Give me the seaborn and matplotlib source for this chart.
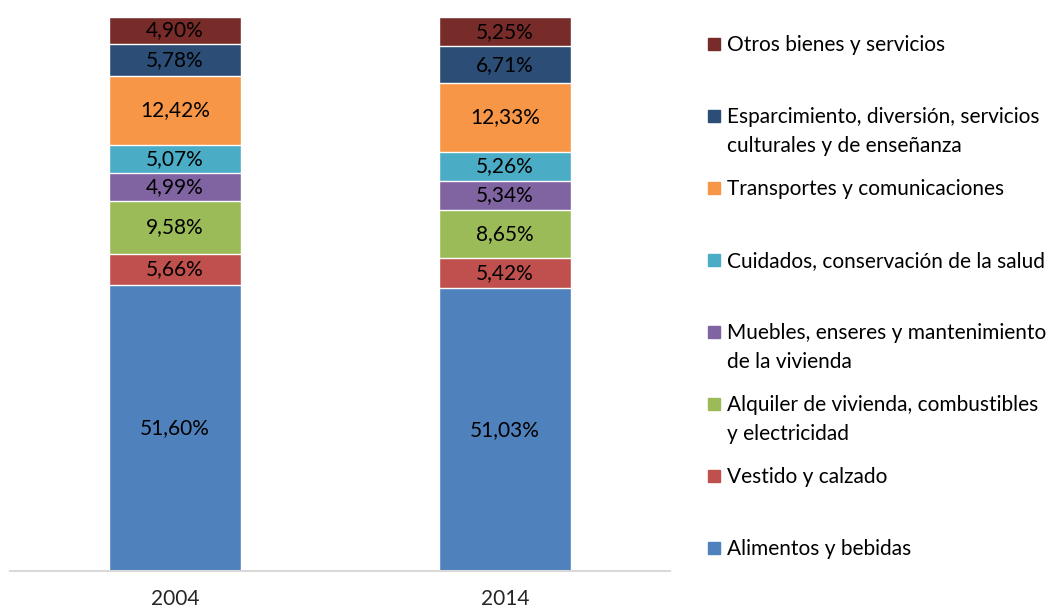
import matplotlib

matplotlib.use("Agg")
import matplotlib.pyplot as plt
import numpy as np
import pandas as pd
import seaborn as sns
from matplotlib.patches import Rectangle

YEARS = ["2004", "2014"]
CATEGORIES = [
    "Alimentos y bebidas",
    "Vestido y calzado",
    "Alquiler de vivienda, combustibles\ny electricidad",
    "Muebles, enseres y mantenimiento\nde la vivienda",
    "Cuidados, conservación de la salud",
    "Transportes y comunicaciones",
    "Esparcimiento, diversión, servicios\nculturales y de enseñanza",
    "Otros bienes y servicios",
]
VALUES_2004 = [51.60, 5.66, 9.58, 4.99, 5.07, 12.42, 5.78, 4.90]
VALUES_2014 = [51.03, 5.42, 8.65, 5.34, 5.26, 12.33, 6.71, 5.25]
COLORS = ["#4F81BD", "#C0504D", "#9BBB59", "#8064A2",
          "#4BACC6", "#F79646", "#2C4D75", "#772C2A"]

FONT = ["Lato", "DejaVu Sans"]


def build() -> pd.DataFrame:
    rows = []
    for year, vals in zip(YEARS, [VALUES_2004, VALUES_2014]):
        cum = np.cumsum(vals)
        for cat, v, c in zip(CATEGORIES, vals, cum):
            rows.append({"year": year, "cat": cat, "value": v, "top": c})
    return pd.DataFrame(rows)


def plot(df: pd.DataFrame) -> None:
    sns.set_style("white")
    plt.rcParams["font.family"] = FONT

    fig = plt.figure(figsize=(10.64, 6.10), dpi=100)
    ax = fig.add_axes([10 / 1064, 1 - 571 / 610, 660 / 1064, 554 / 610])

    # draw cumulative bars from the top down so lower ones overlay
    for cat, color in reversed(list(zip(CATEGORIES, COLORS))):
        sub = df[df["cat"] == cat]
        sns.barplot(data=sub, x="year", y="top", order=YEARS, color=color,
                    width=0.4, edgecolor="white", linewidth=1.0,
                    saturation=1, ax=ax)

    # segment labels
    for year_i, year in enumerate(YEARS):
        sub = df[df["year"] == year]
        for _, r in sub.iterrows():
            ax.text(year_i, r["top"] - r["value"] / 2,
                    f"{r['value']:.2f}%".replace(".", ","),
                    ha="center", va="center", fontsize=15, color="#000000")

    ax.set_xlim(-0.5, 1.5)
    ax.set_ylim(0, 100)
    ax.set_xlabel("")
    ax.set_ylabel("")
    ax.set_yticks([])
    ax.tick_params(axis="x", length=0, pad=13, labelsize=15)
    for s in ["top", "right", "left"]:
        ax.spines[s].set_visible(False)
    ax.spines["bottom"].set_color("#D9D9D9")
    ax.spines["bottom"].set_linewidth(1.5)

    # legend, evenly spaced entries, top entry first
    y0 = 44
    step = 72
    for i, (cat, color) in enumerate(reversed(list(zip(CATEGORIES, COLORS)))):
        yp = y0 + i * step
        fig.patches.append(Rectangle((708 / 1064, 1 - (yp + 6) / 610),
                                     12 / 1064, 12 / 610, color=color,
                                     transform=fig.transFigure))
        fig.text(727 / 1064, 1 - (yp - 9) / 610, cat, ha="left", va="top",
                 fontsize=15, linespacing=1.55, color="#000000")

    fig.savefig("out.png", dpi=100)


def main() -> None:
    plot(build())


if __name__ == "__main__":
    main()
